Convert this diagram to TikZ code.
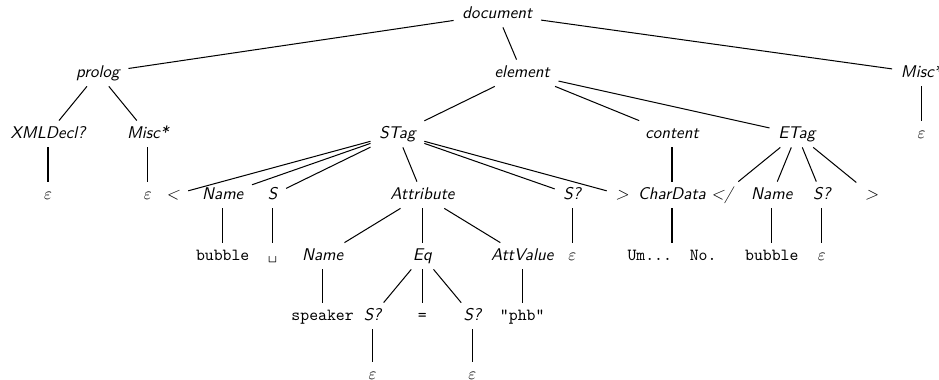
\documentclass[tikz,border=0pt]{standalone}
\begin{document}
\begin{tikzpicture}[x=0.59pt,y=-0.59pt,
  base/.style={inner xsep=5pt, inner ysep=3.2pt, text height=7pt, text depth=2pt},
  nt/.style={base, font=\sffamily\itshape},
  lf/.style={base, font=\ttfamily},
  eps/.style={base},
  edge/.style={line width=0.6pt}]
\useasboundingbox (0,0) rectangle (939,380);
% level 0
\node[nt] (document) at (497.3,14) {document};
% level 1
\node[nt] (prolog) at (97.9,73) {prolog};
\node[nt] (element) at (522.2,73) {element};
\node[nt] (miscR) at (921.6,73) {Misc*};
% level 2
\node[nt] (xmldecl) at (48,134) {XMLDecl?};
\node[nt] (miscL) at (147.8,134) {Misc*};
\node[nt] (stag) at (397.4,134) {STag};
\node[nt] (content) at (672,134) {content};
\node[nt] (etag) at (796.8,134) {ETag};
\node[eps] (eps3) at (921.6,134) {$\varepsilon$};
% level 3
\node[eps] (eps1) at (48,195) {$\varepsilon$};
\node[eps] (eps2) at (147.8,195) {$\varepsilon$};
\node[nt] (lt) at (172.8,195) {<};
\node[nt] (name1) at (222.7,195) {Name};
\node[nt] (s1) at (272.6,195) {S};
\node[nt] (attribute) at (422.4,195) {Attribute};
\node[nt] (sq1) at (572.2,195) {S?};
\node[nt] (gt1) at (622.1,195) {>};
\node[nt] (chardata) at (672,195) {CharData};
\node[nt] (lts) at (721.9,195) {</};
\node[nt] (name2) at (771.8,195) {Name};
\node[nt] (sq2) at (821.8,195) {S?};
\node[nt] (gt2) at (871.7,195) {>};
% level 4
\node[lf] (bubble1) at (222.7,256) {bubble};
\node[lf] (vs) at (272.6,256) {\textvisiblespace};
\node[nt] (name3) at (322.6,256) {Name};
\node[nt] (eq) at (422.4,256) {Eq};
\node[nt] (attvalue) at (522.2,256) {AttValue};
\node[eps] (eps4) at (572.2,256) {$\varepsilon$};
\node[lf] (um) at (672,256) {Um...\ \ No.};
\node[lf] (bubble2) at (771.8,256) {bubble};
\node[eps] (eps5) at (821.8,256) {$\varepsilon$};
% level 5
\node[lf] (speaker) at (322.6,316) {speaker};
\node[nt] (sq3) at (372.5,316) {S?};
\node[lf] (equals) at (422.4,316) {=};
\node[nt] (sq4) at (472.3,316) {S?};
\node[lf] (phb) at (522.2,316) {"phb"};
% level 6
\node[eps] (eps6) at (372.5,375) {$\varepsilon$};
\node[eps] (eps7) at (472.3,375) {$\varepsilon$};
% edges
\foreach \p/\c in {document/prolog, document/element, document/miscR,
  prolog/xmldecl, prolog/miscL, xmldecl/eps1, miscL/eps2,
  element/stag, element/content, element/etag, miscR/eps3,
  stag/lt, stag/name1, stag/s1, stag/attribute, stag/sq1, stag/gt1,
  content/chardata, etag/lts, etag/name2, etag/sq2, etag/gt2,
  name1/bubble1, s1/vs, attribute/name3, attribute/eq, attribute/attvalue,
  sq1/eps4, chardata/um, name2/bubble2, sq2/eps5,
  name3/speaker, eq/sq3, eq/equals, eq/sq4, attvalue/phb,
  sq3/eps6, sq4/eps7}
  \draw[edge] (\p) -- (\c);
\end{tikzpicture}
\end{document}
